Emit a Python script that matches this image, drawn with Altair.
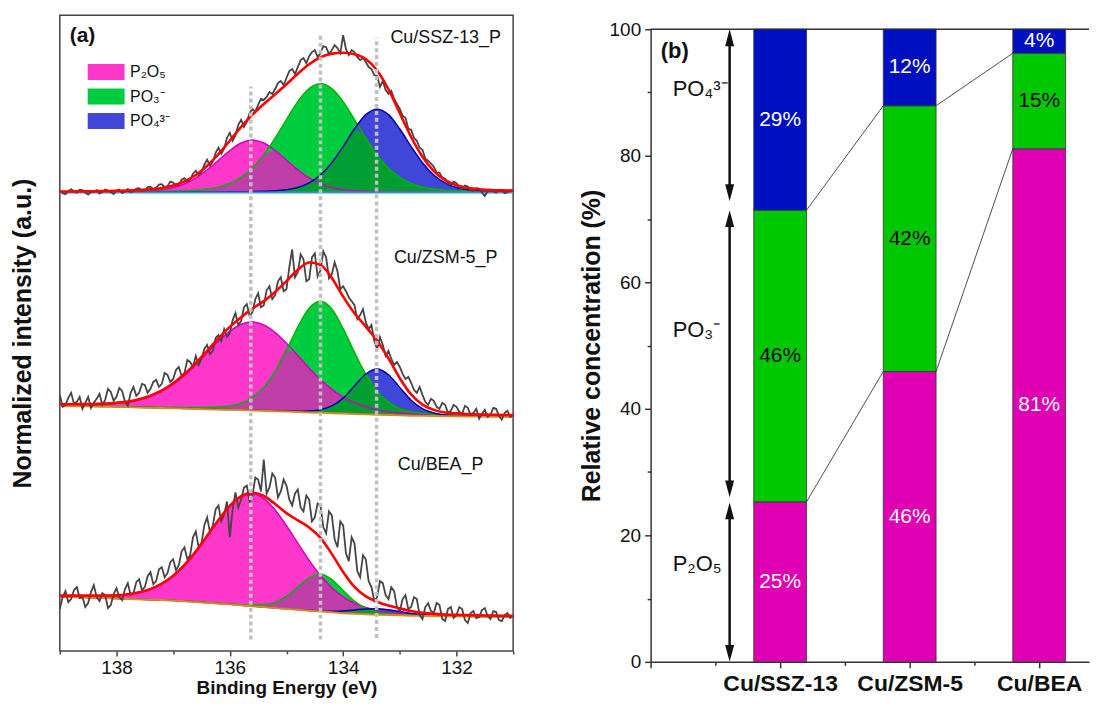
import altair as alt
import pandas as pd

FONT = "Liberation Sans"
INK = "#111111"

# ============ (a) XPS P 2p spectra ============
SAMPLES_A = ["Cu/SSZ-13_P", "Cu/ZSM-5_P", "Cu/BEA_P"]
COMPONENTS = ["P₂O₅", "PO₃⁻", "PO₄³⁻"]

BE_FIT = [139.0, 138.8, 138.6, 138.4, 138.2, 138.0, 137.8, 137.6, 137.4, 137.2,
          137.0, 136.8, 136.6, 136.4, 136.2, 136.0, 135.8, 135.6, 135.4, 135.2,
          135.0, 134.8, 134.6, 134.4, 134.2, 134.0, 133.8, 133.6, 133.4, 133.2,
          133.0, 132.8, 132.6, 132.4, 132.2, 132.0, 131.8, 131.6, 131.4, 131.2, 131.0]

SSZ_BASE = [0.0] * len(BE_FIT)
SSZ_P2O5 = [0.35, 0.4, 0.45, 0.5, 0.6, 0.7, 0.9, 1.2, 1.8, 2.9, 5.1, 8.9, 14.7, 22.9, 32.5, 42.2,
            49.8, 52.7, 49.8, 42.2, 32.5, 22.9, 14.7, 8.9, 5.1, 2.9, 1.8, 1.2, 0.9, 0.7, 0.6, 0.5,
            0.45, 0.4, 0.35, 0.33, 0.3, 0.28, 0.26, 0.24, 0.22]
SSZ_PO3 = [0.5, 0.55, 0.6, 0.65, 0.7, 0.8, 0.85, 1.0, 1.1, 1.3, 1.5, 1.9, 2.4, 3.5, 5.5, 9.1,
           15.3, 24.6, 37.9, 54.7, 73.3, 91.3, 104.4, 109.3, 104.4, 91.3, 73.3, 54.7, 37.9, 24.6,
           15.3, 9.1, 5.5, 3.5, 2.4, 1.9, 1.5, 1.3, 1.1, 1.0, 0.85]
SSZ_PO4 = [0.22, 0.23, 0.25, 0.26, 0.28, 0.3, 0.33, 0.35, 0.38, 0.4, 0.45, 0.5, 0.55, 0.6, 0.65,
           0.75, 0.9, 1.0, 1.3, 1.8, 2.9, 5.1, 9.7, 17.6, 30.0, 46.2, 63.8, 78.2, 83.7, 78.2, 63.8,
           46.2, 30.0, 17.6, 9.7, 5.1, 2.9, 1.8, 1.3, 1.0, 0.9]

ZSM_BASE = [11.0, 10.8, 10.6, 10.4, 10.2, 10.0, 9.7, 9.4, 9.1, 8.8, 8.5, 8.2, 7.9, 7.6, 7.3, 7.0,
            6.7, 6.4, 6.0, 5.6, 5.2, 4.8, 4.4, 4.0, 3.6, 3.2, 2.8, 2.4, 2.0, 1.7, 1.4, 1.1, 0.9,
            0.7, 0.5, 0.4, 0.3, 0.2, 0.1, 0.05, 0.0]
ZSM_P2O5 = [1.1, 1.3, 1.5, 1.9, 2.4, 3.4, 4.9, 7.4, 11.2, 16.6, 23.9, 33.3, 44.4, 56.6, 68.6, 79.0,
            86.2, 88.8, 86.2, 79.0, 68.6, 56.6, 44.4, 33.3, 23.9, 16.6, 11.2, 7.4, 4.9, 3.4, 2.4,
            1.9, 1.5, 1.3, 1.1, 1.0, 0.9, 0.8, 0.75, 0.7, 0.65]
ZSM_PO3 = [0.4, 0.44, 0.47, 0.5, 0.54, 0.6, 0.67, 0.74, 0.8, 0.87, 1.0, 1.2, 1.3, 1.8, 2.5, 3.9,
           6.8, 13.0, 23.5, 40.2, 61.8, 85.3, 104.6, 112.0, 104.6, 85.3, 61.8, 40.2, 23.5, 13.0,
           6.8, 3.9, 2.5, 1.8, 1.3, 1.2, 1.0, 0.87, 0.8, 0.74, 0.67]
ZSM_PO4 = [0.09, 0.09, 0.1, 0.1, 0.11, 0.12, 0.13, 0.14, 0.15, 0.16, 0.17, 0.18, 0.2, 0.22, 0.24,
           0.27, 0.3, 0.35, 0.39, 0.45, 0.6, 0.8, 1.4, 3.1, 7.3, 15.5, 28.1, 40.5, 46.0, 40.5,
           28.1, 15.5, 7.3, 3.1, 1.4, 0.8, 0.6, 0.45, 0.39, 0.35, 0.3]

BEA_BASE = [20.3, 20.0, 19.7, 19.4, 19.0, 18.6, 18.2, 17.8, 17.4, 17.0, 16.5, 15.9, 15.2, 14.4,
            13.6, 12.7, 11.8, 10.9, 10.0, 9.1, 8.2, 7.3, 6.4, 5.5, 4.7, 3.9, 3.3, 2.8, 2.4, 2.0,
            1.7, 1.4, 1.2, 1.0, 0.85, 0.7, 0.6, 0.5, 0.4, 0.35, 0.3]
BEA_P2O5 = [1.2, 1.35, 1.6, 1.9, 2.4, 3.0, 4.5, 6.8, 10.5, 16.3, 24.7, 36.1, 50.4, 66.8, 83.4,
            98.4, 108.9, 112.7, 108.9, 98.4, 83.4, 66.8, 50.4, 36.1, 24.7, 16.3, 10.5, 6.8, 4.5,
            3.0, 2.4, 1.9, 1.6, 1.35, 1.2, 1.1, 1.0, 0.9, 0.85, 0.8, 0.75]
BEA_PO3 = [0.1, 0.1, 0.11, 0.11, 0.12, 0.13, 0.14, 0.16, 0.18, 0.2, 0.22, 0.25, 0.28, 0.32, 0.37,
           0.5, 0.7, 1.2, 2.5, 5.9, 12.6, 22.8, 32.9, 37.4, 32.9, 22.8, 12.6, 5.9, 2.5, 1.2, 0.7,
           0.5, 0.37, 0.32, 0.28, 0.25, 0.22, 0.2, 0.18, 0.16, 0.14]
BEA_PO4 = [0.03, 0.03, 0.03, 0.03, 0.03, 0.03, 0.03, 0.03, 0.03, 0.03, 0.04, 0.04, 0.04, 0.04,
           0.05, 0.05, 0.05, 0.05, 0.05, 0.07, 0.09, 0.13, 0.23, 0.5, 1.1, 2.25, 3.8, 5.3, 6.0,
           5.3, 3.8, 2.25, 1.1, 0.5, 0.23, 0.13, 0.09, 0.07, 0.05, 0.05, 0.04]

# measured spectra, 0.05 eV steps from 139.00 down to 131.00 (rows of 0.5 eV)
SSZ_RAW = [2.0, -0.5, -1.5, 1.5, 3.5, 1.0, 0.0, 3.0, 2.5, 0.0,
           -2.0, 0.5, 1.0, 2.5, -1.0, 0.5, 3.0, 2.0, 0.5, -1.5,
           2.0, 3.0, -0.5, 1.0, 3.5, 0.5, 1.5, 4.0, 4.5, 2.0,
           2.0, 5.5, 6.0, 3.5, 5.0, 8.0, 8.5, 5.5, 6.5, 11.0,
           10.0, 7.5, 8.0, 13.0, 14.5, 11.0, 13.0, 19.0, 22.0, 17.5,
           20.5, 28.0, 33.0, 27.0, 31.0, 40.0, 45.0, 39.0, 44.0, 55.0,
           60.0, 52.0, 57.5, 68.0, 73.0, 66.0, 71.0, 80.0, 84.0, 81.0,
           88.0, 94.0, 93.0, 96.0, 101.0, 99.0, 104.0, 110.0, 112.0, 108.0,
           115.0, 122.0, 124.0, 119.0, 126.0, 133.0, 135.0, 130.0, 137.0, 141.0,
           143.0, 136.0, 140.0, 147.0, 146.0, 139.0, 143.0, 148.0, 145.0, 140.0,
           158.0, 144.0, 138.0, 143.0, 141.0, 136.0, 133.0, 135.0, 131.0, 126.0,
           124.0, 118.0, 117.0, 106.0, 112.0, 103.0, 99.0, 102.0, 94.0, 89.0,
           84.0, 77.0, 75.0, 64.0, 63.0, 55.0, 52.0, 45.0, 43.0, 34.0,
           32.0, 29.0, 26.0, 20.0, 20.0, 15.0, 14.0, 9.0, 8.0, 11.0,
           9.5, 5.0, 4.0, 7.0, 6.0, 2.0, 1.5, 4.5, 4.0, 0.0,
           -3.5, 1.0, 3.0, 1.5, 0.0, 3.0, 2.5, -0.5, 0.5, 2.5,
           2.0]
ZSM_RAW = [22, 10, 12, 19, 24, 13, 15, 20, 8, 14,
           20, 9, 14, 18, 23, 12, 17, 28, 25, 16,
           20, 29, 26, 15, 11, 24, 30, 21, 24, 33,
           32, 24, 28, 35, 37, 30, 33, 44, 42, 35,
           38, 47, 50, 41, 44, 57, 55, 50, 61, 52,
           58, 68, 72, 63, 66, 79, 82, 76, 88, 80,
           84, 97, 104, 92, 96, 110, 113, 101, 105, 118,
           124, 110, 112, 127, 131, 118, 122, 136, 140, 126,
           128, 150, 168, 140, 145, 163, 158, 136, 138, 160,
           164, 141, 147, 166, 160, 139, 143, 155, 146, 128,
           131, 126, 120, 116, 112, 98, 102, 108, 95, 88,
           92, 76, 68, 80, 72, 61, 66, 58, 52, 55,
           50, 43, 38, 40, 34, 27, 24, 30, 22, 15,
           12, 18, 16, 10, 8, 14, 12, 4, 6, 12,
           10, 5, 3, 11, 9, 2, 4, 8, -2, 3,
           7, 0, 2, 9, 8, 1, -3, 4, 6, 0,
           1]
BEA_RAW = [8, 20, 26, 15, 18, 27, 30, 19, 20, 10,
           14, 25, 32, 20, 16, 24, 22, 9, 12, 23,
           29, 20, 17, 28, 34, 22, 24, 35, 38, 27,
           30, 41, 45, 33, 36, 48, 50, 40, 44, 55,
           58, 47, 52, 66, 70, 58, 62, 80, 86, 70,
           74, 92, 100, 85, 92, 108, 112, 96, 103, 116,
           80, 108, 125, 110, 118, 130, 132, 116, 122, 140,
           138, 126, 158, 124, 130, 144, 140, 120, 126, 138,
           132, 118, 112, 124, 128, 110, 106, 122, 118, 96,
           100, 114, 112, 90, 84, 106, 102, 78, 70, 96,
           92, 64, 56, 80, 74, 46, 40, 62, 58, 36,
           30, 16, 20, 36, 34, 22, 18, 30, 26, 10,
           6, 18, 22, 8, 10, 20, 18, 2, -2, 10,
           14, 6, 4, 14, 12, -2, -4, 8, 10, -1,
           2, 10, 8, -3, -6, 4, 6, -1, 0, 7,
           9, 1, -2, 6, 5, -3, -4, 2, 4, -1,
           1]
BE_RAW = [round(139.0 - 0.05 * i, 2) for i in range(len(SSZ_RAW))]

PEAK_BE = [135.63, 134.40, 133.41]
PEAK_LO = [11.4, 11.4, 13.0]
PEAK_HI = [566.5, 619.0, 615.5]

# layout / style (not data)
OFFSET = {"Cu/SSZ-13_P": 460.0, "Cu/ZSM-5_P": 235.0, "Cu/BEA_P": 34.0}
LABEL_AT = {"Cu/SSZ-13_P": (132.19, 615.5), "Cu/ZSM-5_P": (132.19, 394.3), "Cu/BEA_P": (132.28, 186.5)}
BASE_COLOR = {"Cu/SSZ-13_P": "#3C8CDC", "Cu/ZSM-5_P": "#D88A20", "Cu/BEA_P": "#D88A20"}
FILL = {"P₂O₅": "#FF38CC", "PO₃⁻": "#00CC40", "PO₄³⁻": "#4046D8"}
EDGE = {"P₂O₅": "#D000C0", "PO₃⁻": "#00B400", "PO₄³⁻": "#0000A8"}
OVER_PG = "#C03EA8"
OVER_GQ = "#009E32"

FIT = {
    "Cu/SSZ-13_P": (SSZ_BASE, SSZ_P2O5, SSZ_PO3, SSZ_PO4),
    "Cu/ZSM-5_P": (ZSM_BASE, ZSM_P2O5, ZSM_PO3, ZSM_PO4),
    "Cu/BEA_P": (BEA_BASE, BEA_P2O5, BEA_PO3, BEA_PO4),
}
RAW = {"Cu/SSZ-13_P": SSZ_RAW, "Cu/ZSM-5_P": ZSM_RAW, "Cu/BEA_P": BEA_RAW}

wide_rows, long_rows, raw_rows = [], [], []
for s in SAMPLES_A:
    base, pp, gg, qq = FIT[s]
    off = OFFSET[s]
    for i, be in enumerate(BE_FIT):
        b = off + base[i]
        p, g, q = pp[i], gg[i], qq[i]
        wide_rows.append(dict(BE=be, sample=s, base=b, p=b + p, g=b + g, q=b + q,
                              pg=b + min(p, g), gq=b + min(g, q), env=b + p + g + q,
                              bcol=BASE_COLOR[s]))
        for comp, v in zip(COMPONENTS, (p, g, q)):
            long_rows.append(dict(BE=be, sample=s, comp=comp, top=b + v, base=b))
    for be, v in zip(BE_RAW, RAW[s]):
        raw_rows.append(dict(BE=be, sample=s, y=off + v))

fit_wide = pd.DataFrame(wide_rows)
fit_long = pd.DataFrame(long_rows)
raw_df = pd.DataFrame(raw_rows)
peak_df = pd.DataFrame({"BE": PEAK_BE, "lo": PEAK_LO, "hi": PEAK_HI})
lab_df = pd.DataFrame({"BE": [LABEL_AT[s][0] for s in SAMPLES_A],
                       "y": [LABEL_AT[s][1] for s in SAMPLES_A],
                       "label": SAMPLES_A})
tag_a = pd.DataFrame({"BE": [138.6], "y": [617.0], "label": ["(a)"]})

W_A, H_A = 455, 638
XA_SCALE = alt.Scale(domain=[131, 139], reverse=True, nice=False, zero=False, padding=0)
YA_SCALE = alt.Scale(domain=[0, H_A], nice=False, zero=False, padding=0)
XA_AXIS = alt.Axis(title="Binding Energy (eV)", values=list(range(131, 140)),
                   labelExpr="datum.value % 2 == 0 ? datum.label : ''",
                   tickSize={"condition": {"test": "datum.value % 2 != 0", "value": 3}, "value": 5},
                   tickColor="#444444", tickWidth=1.5, domain=False, grid=False,
                   labelFont=FONT, labelFontSize=19, labelPadding=3, labelColor=INK,
                   labelOverlap=False, labelFlush=False,
                   titleFont=FONT, titleFontSize=19, titleFontWeight="bold",
                   titlePadding=1, titleColor=INK)
YA_AXIS = alt.Axis(title="Normalized intensity (a.u.)", labels=False, ticks=False,
                   domain=False, grid=False, titleFont=FONT, titleFontSize=25,
                   titleFontWeight="bold", titlePadding=24, titleColor=INK)
LEG = alt.Legend(title=None, orient="none", legendX=28, legendY=49,
                 symbolType="M-2.3125,-1L2.3125,-1L2.3125,1L-2.3125,1Z", symbolSize=256,
                 symbolOffset=10.5, symbolStrokeWidth=0, symbolOpacity=1,
                 labelFont=FONT, labelFontSize=16, labelColor=INK, labelOffset=16,
                 rowPadding=8.6)
COMP_SCALE = alt.Scale(domain=COMPONENTS, range=[FILL[c] for c in COMPONENTS])


def xa(f):
    return alt.X(f"{f}:Q", scale=XA_SCALE, axis=XA_AXIS)


def ya(f):
    return alt.Y(f"{f}:Q", scale=YA_SCALE, axis=YA_AXIS)


def comp_area(comp):
    return (alt.Chart(fit_long).transform_filter(alt.datum.comp == comp)
            .mark_area(interpolate="monotone", opacity=1)
            .encode(x=xa("BE"), y=ya("top"), y2="base:Q",
                    color=alt.Color("comp:N", scale=COMP_SCALE, legend=LEG),
                    detail="sample:N"))


def overlap(field, col):
    return (alt.Chart(fit_wide).mark_area(interpolate="monotone", color=col, opacity=1)
            .encode(x=xa("BE"), y=ya(field), y2="base:Q", detail="sample:N"))


def outline(field, col, w):
    return (alt.Chart(fit_wide).mark_line(interpolate="monotone", color=col, strokeWidth=w)
            .encode(x=xa("BE"), y=ya(field), detail="sample:N"))


layers_a = [
    comp_area("P₂O₅"),
    comp_area("PO₃⁻"),
    overlap("pg", OVER_PG),
    comp_area("PO₄³⁻"),
    overlap("gq", OVER_GQ),
    outline("p", EDGE["P₂O₅"], 1.5),
    outline("g", EDGE["PO₃⁻"], 1.5),
    outline("q", EDGE["PO₄³⁻"], 1.5),
    alt.Chart(fit_wide).mark_line(strokeWidth=2).encode(
        x=xa("BE"), y=ya("base"), detail="sample:N", stroke=alt.Stroke("bcol:N", scale=None)),
    alt.Chart(raw_df).mark_line(color="#454545", strokeWidth=1.8).encode(
        x=xa("BE"), y=ya("y"), detail="sample:N"),
    outline("env", "#FF0000", 2.6),
    alt.Chart(peak_df).mark_rule(color="#C0C0C0", strokeWidth=3.5, strokeDash=[4, 3]).encode(
        x=xa("BE"), y=ya("lo"), y2="hi:Q"),
    alt.Chart(lab_df).mark_text(font=FONT, fontSize=18, color=INK).encode(
        x=xa("BE"), y=ya("y"), text="label:N"),
    alt.Chart(tag_a).mark_text(font=FONT, fontSize=21, fontWeight="bold", color=INK).encode(
        x=xa("BE"), y=ya("y"), text="label:N"),
]
panel_a = alt.layer(*layers_a).properties(
    width=W_A, height=H_A, view=alt.ViewBackground(stroke="#444444", strokeWidth=1.5))

# ============ (b) relative concentration ============
CATS_B = ["Cu/SSZ-13", "Cu/ZSM-5", "Cu/BEA"]
POS_B = [1, 2, 3]
P2O5_B = [25.3, 45.9, 81.1]
PO3_B = [46.1, 42.0, 15.1]
PO4_B = [28.6, 12.1, 3.8]

SIDE_LABELS = ["PO₄³⁻", "PO₃⁻", "P₂O₅"]
SIDE_Y = [90.5, 52.5, 15.5]
ARROW_TOP = [100.0, 71.4, 25.2]
ARROW_BOTTOM = [72.8, 26.0, 0.0]

# layout / style
W_B, H_B = 440, 649
PX_PER_UNIT = 130.0
XMAX_B = W_B / PX_PER_UNIT
BAR_PX = 53
HW = BAR_PX / 2 / PX_PER_UNIT
ARROW_X = 0.61
SIDE_X = 0.17
BAR_FILL = {"P₂O₅": "#E000B4", "PO₃⁻": "#00C800", "PO₄³⁻": "#0010C0"}
TXT_COL = {"P₂O₅": "white", "PO₃⁻": "black", "PO₄³⁻": "white"}

bar_rows, cum_levels = [], []
for pos, vals in zip(POS_B, zip(P2O5_B, PO3_B, PO4_B)):
    cum = 0.0
    levels = []
    for comp, v in zip(COMPONENTS, vals):
        bar_rows.append(dict(pos=pos, start=cum, end=cum + v, mid=cum + v / 2,
                             label=f"{v:.0f}%", fill=BAR_FILL[comp], tcol=TXT_COL[comp]))
        cum += v
        levels.append(cum)
    cum_levels.append(levels)
bars_df = pd.DataFrame(bar_rows)

conn_rows = []
for i in range(len(POS_B) - 1):
    for k in range(2):
        conn_rows.append(dict(x1=POS_B[i] + HW, y1=cum_levels[i][k],
                              x2=POS_B[i + 1] - HW, y2=cum_levels[i + 1][k]))
conn_df = pd.DataFrame(conn_rows)

INSET = 2.0
shaft_df = pd.DataFrame({"x": [ARROW_X] * 3,
                         "yt": [t - INSET for t in ARROW_TOP],
                         "yb": [b + INSET for b in ARROW_BOTTOM]})
UP = "M0,0L-0.53,2L0.53,2Z"
DOWN = "M0,0L-0.53,-2L0.53,-2Z"
head_df = pd.DataFrame({"x": [ARROW_X] * 6,
                        "y": ARROW_TOP + ARROW_BOTTOM,
                        "shape": [UP] * 3 + [DOWN] * 3})
side_df = pd.DataFrame({"x": [SIDE_X] * 3, "y": SIDE_Y, "label": SIDE_LABELS})
tag_b = pd.DataFrame({"x": [0.186], "y": [96.6], "label": ["(b)"]})
top_df = pd.DataFrame({"x0": [0.0], "x1": [XMAX_B], "y": [100.0]})

XB_SCALE = alt.Scale(domain=[0, XMAX_B], nice=False, zero=False, padding=0)
YB_SCALE = alt.Scale(domain=[0, 100], range=[H_B, 14], nice=False, zero=False, padding=0)
lab_expr = " : ".join(f"datum.value == {p} ? '{c}'" for p, c in zip(POS_B, CATS_B)) + " : ''"
XB_AXIS = alt.Axis(title=None, values=[0, 0.5, 1, 1.5, 2, 2.5, 3], labelExpr=lab_expr,
                   tickSize={"condition": {"test": "datum.value % 1 != 0", "value": 3.5}, "value": 6},
                   tickColor="#333333", tickWidth=1.5, domainColor="#333333", domainWidth=1.5,
                   grid=False, labelFont=FONT, labelFontSize=23, labelFontWeight="bold",
                   labelPadding=5, labelColor=INK, labelOverlap=False, labelFlush=False)
YB_AXIS = alt.Axis(title="Relative concentration (%)", values=list(range(0, 101, 10)),
                   labelExpr="datum.value % 20 == 0 ? datum.label : ''",
                   tickSize={"condition": {"test": "datum.value % 20 != 0", "value": 3.5}, "value": 6},
                   tickColor="#333333", tickWidth=1.5, domainColor="#333333", domainWidth=1.5,
                   grid=False, labelFont=FONT, labelFontSize=19, labelPadding=4, labelColor=INK,
                   labelOverlap=False, labelFlush=False,
                   titleFont=FONT, titleFontSize=25, titleFontWeight="bold", titlePadding=5,
                   titleColor=INK)


def xb(f):
    return alt.X(f"{f}:Q", scale=XB_SCALE, axis=XB_AXIS)


def yb(f):
    return alt.Y(f"{f}:Q", scale=YB_SCALE, axis=YB_AXIS)


layers_b = [
    alt.Chart(top_df).mark_rule(color="#333333", strokeWidth=1.5).encode(
        x=xb("x0"), x2="x1:Q", y=yb("y")),
    alt.Chart(bars_df).mark_bar(size=BAR_PX, stroke="#333333", strokeWidth=0.8).encode(
        x=xb("pos"), y=yb("end"), y2="start:Q", color=alt.Color("fill:N", scale=None)),
    alt.Chart(conn_df).mark_rule(color="#222222", strokeWidth=0.8).encode(
        x=xb("x1"), x2="x2:Q", y=yb("y1"), y2="y2:Q"),
    alt.Chart(bars_df).mark_text(font=FONT, fontSize=21).encode(
        x=xb("pos"), y=yb("mid"), text="label:N", color=alt.Color("tcol:N", scale=None)),
    alt.Chart(shaft_df).mark_rule(color=INK, strokeWidth=2.5).encode(
        x=xb("x"), y=yb("yt"), y2="yb:Q"),
    alt.Chart(head_df).mark_point(filled=True, color=INK, size=289, opacity=1, strokeWidth=0).encode(
        x=xb("x"), y=yb("y"), shape=alt.Shape("shape:N", scale=None)),
    alt.Chart(side_df).mark_text(font=FONT, fontSize=22, align="left", color=INK).encode(
        x=xb("x"), y=yb("y"), text="label:N"),
    alt.Chart(tag_b).mark_text(font=FONT, fontSize=22, fontWeight="bold", color=INK).encode(
        x=xb("x"), y=yb("y"), text="label:N"),
]
panel_b = alt.layer(*layers_b).properties(width=W_B, height=H_B)

chart = (alt.hconcat(panel_a, panel_b, spacing=59)
         .resolve_scale(color="independent")
         .resolve_legend(color="independent")
         .properties(padding={"left": 2, "top": 5, "right": 0, "bottom": 0}, background="white")
         .configure_view(stroke="transparent"))

chart.save("out.html", embed_options={"renderer": "svg", "actions": False})
